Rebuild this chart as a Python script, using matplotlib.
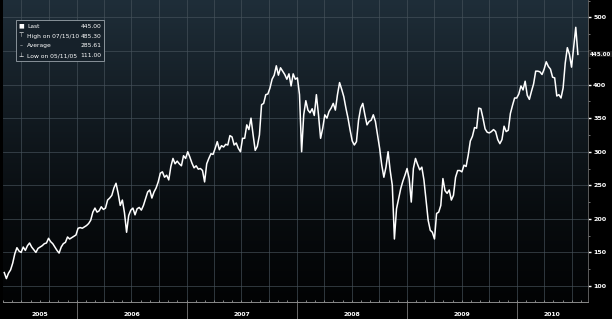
import numpy as np
import pandas as pd
import matplotlib
matplotlib.use("Agg")
import matplotlib.pyplot as plt
import matplotlib.transforms as mtransforms
from matplotlib.colors import LinearSegmentedColormap
from matplotlib.ticker import FixedLocator, MultipleLocator, FuncFormatter
import matplotlib.dates as mdates

# -- data: weekly closes (Thursdays) --
START = "2005-05-05"
PRICES = [
    120, 111, 119, 124, 134, 148, 157, 152, 150, 158,
    153, 160, 164, 158, 154, 150, 156, 158, 160, 163,
    164, 171, 166, 163, 158, 153, 149, 158, 163, 165,
    173, 170, 172, 174, 176, 186, 187, 186, 188, 190,
    193, 198, 210, 216, 210, 212, 218, 214, 216, 228,
    231, 235, 246, 253, 238, 220, 228, 209, 180, 205,
    213, 216, 206, 215, 217, 213, 220, 230, 240, 243,
    231, 240, 246, 255, 268, 270, 262, 265, 258, 278,
    290, 282, 286, 282, 279, 294, 290, 300, 292, 283,
    276, 279, 274, 275, 272, 255, 282, 290, 297, 296,
    305, 315, 303, 309, 307, 311, 310, 324, 322, 310,
    313, 305, 300, 320, 320, 340, 333, 350, 325, 302,
    308, 325, 370, 372, 385, 386, 395, 408, 414, 428,
    414, 425, 420, 415, 408, 416, 398, 416, 408, 410,
    385, 300, 355, 376, 362, 358, 364, 354, 385, 355,
    320, 335, 355, 350, 360, 365, 372, 362, 385, 403,
    393, 382, 365, 350, 332, 316, 310, 315, 347, 365,
    372, 355, 340, 345, 347, 355, 345, 325, 305, 280,
    262, 277, 300, 272, 250, 170, 215, 230, 245, 256,
    265, 275, 260, 225, 275, 290, 281, 273, 277, 258,
    228, 198, 183, 180, 170, 208, 210, 220, 260, 242,
    238, 243, 228, 235, 262, 272, 272, 270, 280, 278,
    295, 316, 323, 336, 335, 365, 364, 350, 334, 329,
    328, 330, 333, 330, 318, 312, 318, 338, 330, 332,
    357, 369, 380, 380, 386, 398, 392, 405, 384, 378,
    390, 401, 420, 420, 419, 415, 423, 434, 427, 423,
    411, 410, 383, 385, 380, 395, 432, 455, 445, 426,
    455, 485.3, 445,
]
DATES = pd.date_range(START, periods=len(PRICES), freq="7D")

LAST = 445.00
LEGEND_ROWS = [
    ("■", "Last", "445.00"),
    ("⊤", "High on 07/15/10", "485.30"),
    ("–", "Average", "285.61"),
    ("⊥", "Low on 05/11/05", "111.00"),
]
YEARS = [2005, 2006, 2007, 2008, 2009, 2010]
YTICKS = [100, 150, 200, 250, 300, 350, 400, 450, 500]

X_START = pd.Timestamp("2005-05-01")
X_END = pd.Timestamp("2010-08-23")

plt.rcParams.update({"font.family": "DejaVu Sans"})

fig = plt.figure(figsize=(6.12, 3.19), dpi=100, facecolor="black")
ax = fig.add_axes([0.005, 0.053, 0.955, 0.947])
ax.set_facecolor("black")

# background gradient (slate at the top, black at the bottom)
cmap = LinearSegmentedColormap.from_list(
    "bbg", [(0.0, "#020304"), (0.3, "#080c0f"), (0.65, "#131c23"), (1.0, "#1f2e39")])
grad = np.linspace(0, 1, 256).reshape(-1, 1)
ax.imshow(grad, extent=[0, 1, 0, 1], transform=ax.transAxes, aspect="auto",
          cmap=cmap, origin="lower", zorder=0)

# grid
gcol = "#47535c"
for y in YTICKS:
    ax.axhline(y, color=gcol, lw=0.6, alpha=0.75, zorder=1)
for q in pd.date_range("2005-07-01", X_END, freq="QS"):
    ax.axvline(q, color=gcol, lw=0.6, alpha=0.75, zorder=1)

# price
ax.plot(DATES, PRICES, color="white", lw=1.1, zorder=3)

ax.set_xlim(X_START, X_END)
ax.set_ylim(76, 526)

# right axis (450 is hidden under the last-price box)
ax.yaxis.tick_right()
ax.yaxis.set_major_locator(FixedLocator(YTICKS))
ax.yaxis.set_major_formatter(FuncFormatter(lambda v, p: "" if v == LAST + 5 else f"{v:.0f}"))
ax.yaxis.set_minor_locator(MultipleLocator(25))
ax.tick_params(axis="y", which="major", colors="white", length=2.5, width=1,
               pad=1.5, labelsize=4.6)
ax.tick_params(axis="y", which="minor", colors="#888888", length=1.2, width=0.6)
for lab in ax.get_yticklabels():
    lab.set_fontweight("bold")

# bottom axis: monthly dots, no labels
ax.xaxis.set_major_locator(mdates.MonthLocator())
ax.xaxis.set_major_formatter(plt.NullFormatter())
ax.tick_params(axis="x", colors="#9a9a9a", length=1.2, width=0.6, direction="in")

for side in ["top", "left"]:
    ax.spines[side].set_visible(False)
ax.spines["bottom"].set_color("#8a8a8a")
ax.spines["bottom"].set_linewidth(0.7)
ax.spines["right"].set_color("#6a6a6a")
ax.spines["right"].set_linewidth(0.6)

# year separators and labels below the plot
trans = mtransforms.blended_transform_factory(ax.transData, ax.transAxes)
for yr in YEARS:
    y0 = max(pd.Timestamp(f"{yr}-01-01"), X_START)
    y1 = min(pd.Timestamp(f"{yr + 1}-01-01"), X_END)
    if yr > YEARS[0]:
        ax.plot([y0, y0], [0, -0.06], transform=trans, color="#7a7a7a",
                lw=0.6, clip_on=False)
    mid = y0 + (y1 - y0) / 2
    ax.text(mid, -0.04, str(yr), transform=trans, ha="center", va="center",
            fontsize=4.4, fontweight="bold", color="white")

# last price label on the right axis
ax.annotate(f"{LAST:.2f}", xy=(1, LAST), xycoords=("axes fraction", "data"),
            xytext=(1.6, 0), textcoords="offset points", ha="left", va="center",
            fontsize=4.0, fontweight="bold", color="white", zorder=6,
            annotation_clip=False,
            bbox=dict(boxstyle="square,pad=0.1", facecolor="#1a1a1a",
                      edgecolor="none"))

# legend box
box = plt.Rectangle((0.026, 0.81), 0.144, 0.127, transform=fig.transFigure,
                    facecolor="#16212a", edgecolor="#9aa3aa", lw=0.6, zorder=5)
fig.patches.append(box)
for i, (icon, label, val) in enumerate(LEGEND_ROWS):
    yy = 0.918 - i * 0.031
    fig.text(0.035, yy, icon, fontsize=4.3, color="white", va="center", ha="center",
             zorder=6)
    fig.text(0.044, yy, label, fontsize=4.3, color="white", va="center", zorder=6)
    fig.text(0.166, yy, val, fontsize=4.3, color="white", va="center", ha="right",
             zorder=6)

fig.savefig("out.png", dpi=100, facecolor="black")
